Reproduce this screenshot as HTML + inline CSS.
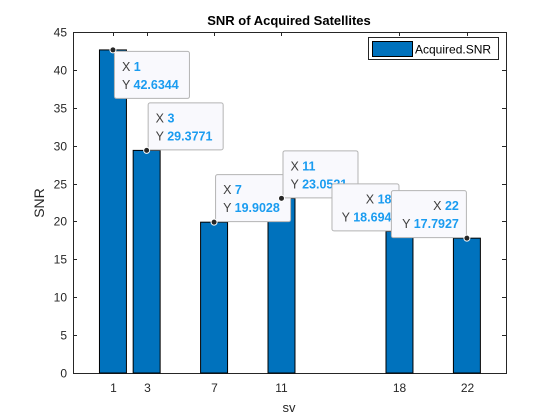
<!DOCTYPE html>
<html><head><meta charset="utf-8"><style>
html,body{margin:0;padding:0;background:#fff;}
svg{display:block;font-family:"Liberation Sans",Arial,sans-serif;}
</style></head><body>
<svg id="chart" width="560" height="420">
<rect width="560" height="420" fill="#fff"/>
<text x="289" y="25" text-anchor="middle" font-weight="bold" font-size="13" fill="#000">SNR of Acquired Satellites</text>
<text x="289" y="412" text-anchor="middle" font-size="13" fill="#262626">sv</text>
<text x="0" y="0" transform="translate(44,203) rotate(-90)" text-anchor="middle" font-size="14" fill="#262626">SNR</text>
<g id="axes"></g><g id="bars"></g><g id="tips"></g>
<g>
<rect x="368.5" y="37.5" width="130" height="22" fill="#fff" stroke="#262626" stroke-width="1"/>
<rect x="372.5" y="41.5" width="40" height="15" fill="#0072bd" stroke="#000"/>
<text x="415" y="53.5" font-size="12" fill="#000">Acquired.SNR</text>
</g>
</svg>
<script>
const categories=[1,3,7,11,18,22];
const snrValues=[42.6344,29.3771,19.9028,23.0521,18.6940,17.7927];
const yTicks=[0,5,10,15,20,25,30,35,40,45];
const tipLabels=["42.6344","29.3771","19.9028","23.0521","18.694","17.7927"];
const tipSide=["br","tr","tr","tr","tl","tl"];
const NS="http://www.w3.org/2000/svg";
const L=73,R=506,T=32,B=373,xmin=-1.37,xmax=24.32,ymin=0,ymax=45;
const xs=v=>L+(v-xmin)/(xmax-xmin)*(R-L);
const ys=v=>B-(v-ymin)/(ymax-ymin)*(B-T);
function mk(tag,attrs,parent){const e=document.createElementNS(NS,tag);for(const k in attrs)e.setAttribute(k,attrs[k]);parent.appendChild(e);return e;}
const ax=document.getElementById('axes'),bars=document.getElementById('bars'),tips=document.getElementById('tips');
mk('rect',{x:L+.5,y:T+.5,width:R-L,height:B-T,fill:'#fff',stroke:'#262626','stroke-width':1},ax);
yTicks.forEach(t=>{const y=Math.round(ys(t))+.5;
mk('line',{x1:L,x2:L+4,y1:y,y2:y,stroke:'#262626'},ax);
mk('line',{x1:R-4,x2:R,y1:y,y2:y,stroke:'#262626'},ax);
const tx=mk('text',{x:L-6,y:y+4,'text-anchor':'end','font-size':12,fill:'#262626'},ax);tx.textContent=t;

});
const bw=1.6;
categories.forEach((c,i)=>{const x=Math.round(xs(c))+.5;
mk('line',{x1:x,x2:x,y1:B,y2:B-4,stroke:'#262626'},ax);
mk('line',{x1:x,x2:x,y1:T,y2:T+4,stroke:'#262626'},ax);
const tx=mk('text',{x:x,y:B+19,'text-anchor':'middle','font-size':12,fill:'#262626'},ax);tx.textContent=c;


const x0=xs(c-bw/2),x1=xs(c+bw/2),y=ys(snrValues[i]);
const r=mk('rect',{x:x0,y:y,width:x1-x0,height:B-y,fill:'#0072bd',stroke:'#000','stroke-width':1},bars);

});
categories.forEach((c,i)=>{const px=xs(c),py=ys(snrValues[i]);const w=tipLabels[i].length>6?75:67,h=47;let bx,by;const s=tipSide[i];
if(s==='br'){bx=px+1;by=py+1;}else if(s==='tr'){bx=px+1;by=py-h-1;}else{bx=px-w-1;by=py-h-1;}
const g=mk('g',{},tips);


mk('rect',{x:bx+.5,y:by+.5,width:w,height:h,rx:2,fill:'#f9f9fd',stroke:'#b4b4b4'},g);
const right=s==='tl';const tx=right?bx+w-7:bx+8;const anc=right?'end':'start';
const t1=mk('text',{x:tx,y:by+20,'text-anchor':anc,'font-size':12.5,fill:'#404040'},g);
t1.innerHTML='X <tspan font-weight="bold" fill="#1a9cf0">'+c+'</tspan>';
const t2=mk('text',{x:tx,y:by+38,'text-anchor':anc,'font-size':12.5,fill:'#404040'},g);
t2.innerHTML='Y <tspan font-weight="bold" fill="#1a9cf0">'+tipLabels[i]+'</tspan>';
mk('circle',{cx:px,cy:py,r:3,fill:'#262626',stroke:'#fff','stroke-width':1},g);});
</script>
</body></html>
